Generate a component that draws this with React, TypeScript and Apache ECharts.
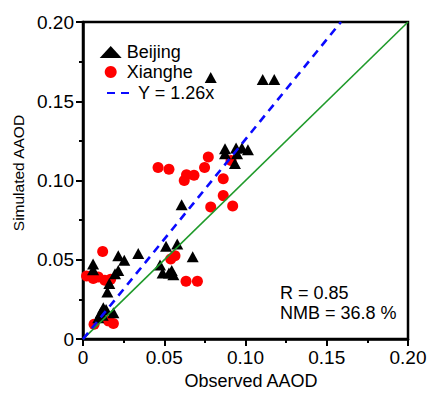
import React, { useEffect, useRef } from "react";
import * as echarts from "echarts";

const beijingPoints: [number, number][] = [
  [0.0786, 0.165], [0.1106, 0.1637], [0.1177, 0.1637],
  [0.0874, 0.12], [0.0942, 0.1206], [0.0978, 0.1206], [0.1015, 0.1194],
  [0.0874, 0.1169], [0.0948, 0.1169], [0.0935, 0.1108],
  [0.0607, 0.0847],
  [0.0511, 0.0586], [0.058, 0.06],
  [0.0474, 0.0468], [0.049, 0.0417], [0.0529, 0.0417], [0.0546, 0.0433], [0.0556, 0.0406],
  [0.0675, 0.0519],
  [0.034, 0.054],
  [0.0217, 0.0525], [0.0254, 0.0498], [0.0217, 0.0433], [0.0197, 0.0412],
  [0.0062, 0.0474], [0.0062, 0.0437],
  [0.0162, 0.0351], [0.015, 0.0297],
  [0.0125, 0.0197], [0.0142, 0.0186], [0.0109, 0.0166], [0.0121, 0.015], [0.0187, 0.0166], [0.0094, 0.0135],
];

const xianghePoints: [number, number][] = [
  [0.0462, 0.1083], [0.0529, 0.1071], [0.0637, 0.1037], [0.0683, 0.1034], [0.0623, 0.1],
  [0.0748, 0.1083], [0.0771, 0.1148], [0.0863, 0.1011], [0.0911, 0.1126],
  [0.0863, 0.0905], [0.0786, 0.0833], [0.0921, 0.0839],
  [0.0121, 0.0552],
  [0.0022, 0.0398], [0.0063, 0.0382], [0.0094, 0.0392], [0.0134, 0.0371], [0.017, 0.0377],
  [0.0068, 0.0094], [0.0156, 0.0115], [0.0187, 0.0098],
  [0.054, 0.0505], [0.0566, 0.0525],
  [0.0634, 0.0365], [0.0704, 0.0365],
];

const fitSlope = 1.26;
const axisMax = 0.2;
const oneToOne: [number, number][] = [[0, 0], [axisMax, axisMax]];
const fitLine: [number, number][] = [[0, 0], [axisMax / fitSlope, axisMax]];
const seriesNames = ["Beijing", "Xianghe", "Y = 1.26x"];
const statTexts = ["R = 0.85", "NMB = 36.8 %"];

const FONT = '"Liberation Sans", Arial, sans-serif';

export default function App() {
  const ref = useRef<HTMLDivElement>(null);
  useEffect(() => {
    if (!ref.current) return;
    const chart = echarts.init(ref.current, null, { renderer: "svg", width: 430, height: 395 });
    const fmt = (v: number) => (v === 0 ? "0" : v.toFixed(2));
    const axisCommon = {
      type: "value" as const,
      min: 0,
      max: axisMax,
      interval: 0.05,
      nameLocation: "middle" as const,
      axisLine: { lineStyle: { color: "#000", width: 2.5 } },
      axisTick: { length: 7, lineStyle: { color: "#000", width: 2 } },
      minorTick: { show: true, splitNumber: 2, length: 4, lineStyle: { color: "#000", width: 2 } },
      splitLine: { show: false },
      minorSplitLine: { show: false },
      axisLabel: { formatter: fmt, fontSize: 19, color: "#000", fontFamily: FONT, margin: 9 },
    };
    chart.setOption({
      animation: false,
      grid: {
        left: 83, top: 22, width: 325, height: 325,
        show: true, borderColor: "#000", borderWidth: 2.5, backgroundColor: "transparent",
      },
      xAxis: {
        ...axisCommon,
        name: "Observed AAOD",
        nameGap: 31,
        nameTextStyle: { fontSize: 18, color: "#000", fontFamily: FONT, padding: [0, 0, 0, 11] },
      },
      yAxis: {
        ...axisCommon,
        name: "Simulated AAOD",
        nameGap: 57,
        nameTextStyle: { fontSize: 15.5, color: "#000", fontFamily: FONT, padding: [0, 0, 0, 15] },
      },
      legend: [
        {
          data: [
            { name: seriesNames[0], icon: "triangle" },
            { name: seriesNames[1], icon: "circle" },
          ],
          orient: "vertical",
          left: 99.7,
          top: 42,
          padding: 0,
          itemWidth: 22,
          itemHeight: 12,
          itemGap: 0,
          selectedMode: false,
          textStyle: { fontSize: 18, lineHeight: 20, color: "#000", fontFamily: FONT },
        },
        {
          data: [seriesNames[2]],
          orient: "vertical",
          left: 106,
          top: 83,
          padding: 0,
          itemWidth: 26,
          itemHeight: 12,
          itemGap: 0,
          selectedMode: false,
          itemStyle: { opacity: 0 },
          lineStyle: { opacity: 1 },
          textStyle: { fontSize: 18, lineHeight: 20, color: "#000", fontFamily: FONT },
        },
      ],
      graphic: [
        { type: "text", left: 280, top: 284, style: { text: statTexts[0], font: `18px ${FONT}`, fill: "#000" } },
        { type: "text", left: 280, top: 304, style: { text: statTexts[1], font: `18px ${FONT}`, fill: "#000" } },
      ],
      series: [
        {
          name: seriesNames[1],
          type: "scatter",
          data: xianghePoints,
          symbol: "circle",
          symbolSize: 11,
          itemStyle: { color: "#ff0000", opacity: 1 },
          z: 2,
        },
        {
          name: seriesNames[0],
          type: "scatter",
          data: beijingPoints,
          symbol: "triangle",
          symbolSize: [12, 11],
          itemStyle: { color: "#000", opacity: 1 },
          z: 2,
        },
        {
          name: "1:1",
          type: "line",
          data: oneToOne,
          symbol: "none",
          lineStyle: { color: "#1f9a2a", width: 1.6 },
          z: 4,
        },
        {
          name: seriesNames[2],
          type: "line",
          data: fitLine,
          symbol: "none",
          itemStyle: { color: "#0a0aff" },
          lineStyle: { color: "#0a0aff", width: 2.6, type: [8, 6] },
          z: 5,
        },
      ],
    });
    return () => chart.dispose();
  }, []);
  return <div ref={ref} style={{ position: "absolute", left: 0, top: 0, width: 430, height: 395 }} />;
}
